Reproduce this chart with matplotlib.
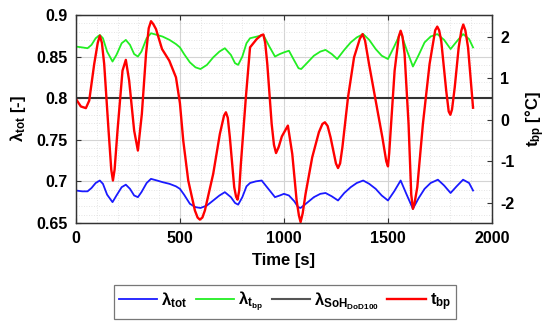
import matplotlib
matplotlib.use("Agg")
import matplotlib.pyplot as plt
from matplotlib.ticker import MultipleLocator

plt.rcParams['font.family'] = ['Liberation Sans', 'DejaVu Sans']
plt.rcParams['font.weight'] = 'bold'
plt.rcParams['mathtext.fontset'] = 'custom'
plt.rcParams['mathtext.rm'] = 'Liberation Sans:bold'
plt.rcParams['mathtext.it'] = 'Liberation Sans:bold'
plt.rcParams['mathtext.bf'] = 'Liberation Sans:bold'
plt.rcParams['mathtext.default'] = 'bf'
plt.rcParams['axes.unicode_minus'] = False

# ---- data ----
t_green = [0, 30, 56, 75, 95, 115, 130, 150, 176, 195, 220, 240, 260, 280, 298, 315, 340,
           361, 390, 417, 450, 481, 500, 520, 548, 575, 599, 630, 660, 690, 716, 745, 765,
           780, 800, 820, 837, 870, 901, 930, 957, 980, 1000, 1024, 1050, 1070, 1083, 1110,
           1144, 1175, 1200, 1230, 1256, 1290, 1321, 1350, 1381, 1410, 1441, 1470, 1500,
           1530, 1561, 1590, 1620, 1648, 1676, 1705, 1737, 1770, 1801, 1830, 1861, 1890, 1909]
lam_tbp = [0.862, 0.861, 0.860, 0.864, 0.872, 0.876, 0.872, 0.856, 0.844, 0.852, 0.866,
           0.870, 0.864, 0.853, 0.850, 0.856, 0.872, 0.878, 0.876, 0.874, 0.870, 0.865,
           0.861, 0.853, 0.843, 0.837, 0.835, 0.840, 0.849, 0.856, 0.860, 0.852, 0.842,
           0.840, 0.850, 0.866, 0.872, 0.874, 0.876, 0.862, 0.850, 0.853, 0.855, 0.857,
           0.845, 0.836, 0.835, 0.842, 0.851, 0.856, 0.858, 0.853, 0.847, 0.858, 0.867,
           0.873, 0.877, 0.870, 0.859, 0.851, 0.847, 0.862, 0.879, 0.858, 0.838, 0.852,
           0.867, 0.874, 0.877, 0.870, 0.859, 0.868, 0.877, 0.871, 0.861]

t_blue = [0, 30, 56, 75, 95, 115, 130, 150, 176, 195, 220, 240, 260, 280, 298, 315, 340,
          361, 390, 417, 450, 481, 500, 520, 548, 575, 599, 630, 660, 690, 716, 745, 765,
          780, 800, 820, 837, 865, 893, 925, 957, 980, 1000, 1024, 1050, 1068, 1080, 1110,
          1144, 1175, 1200, 1230, 1260, 1290, 1321, 1350, 1381, 1410, 1441, 1470, 1500,
          1530, 1561, 1590, 1620, 1648, 1676, 1705, 1740, 1770, 1801, 1830, 1861, 1890, 1909]
lam_tot = [0.689, 0.688, 0.688, 0.692, 0.698, 0.701, 0.697, 0.684, 0.675, 0.683, 0.693,
           0.696, 0.691, 0.683, 0.681, 0.687, 0.698, 0.703, 0.701, 0.699, 0.697, 0.694,
           0.691, 0.684, 0.673, 0.669, 0.668, 0.671, 0.677, 0.683, 0.687, 0.681, 0.674,
           0.672, 0.681, 0.694, 0.698, 0.700, 0.701, 0.691, 0.681, 0.683, 0.685, 0.683,
           0.676, 0.669, 0.668, 0.674, 0.681, 0.685, 0.686, 0.682, 0.677, 0.686, 0.693,
           0.698, 0.701, 0.697, 0.691, 0.683, 0.677, 0.688, 0.701, 0.684, 0.667, 0.680,
           0.691, 0.698, 0.702, 0.695, 0.686, 0.694, 0.702, 0.698, 0.689]

lam_soh = 0.8
t_soh = [0, 2000]

t_red = [0, 24, 48, 64, 88, 105, 115, 125, 136, 157, 170, 178, 186, 200, 224, 240, 256,
         280, 298, 317, 337, 350, 361, 372, 385, 414, 449, 481, 500, 516, 540, 572, 585,
         596, 608, 620, 660, 692, 712, 721, 730, 740, 761, 770, 777, 785, 793, 817, 837,
         869, 890, 901, 910, 920, 941, 952, 962, 975, 990, 1019, 1040, 1061, 1072, 1080,
         1090, 1104, 1136, 1168, 1185, 1197, 1210, 1224, 1250, 1260, 1270, 1281, 1308,
         1337, 1365, 1378, 1390, 1409, 1441, 1473, 1492, 1500, 1506, 1513, 1532, 1552,
         1561, 1570, 1580, 1599, 1612, 1620, 1628, 1641, 1668, 1700, 1727, 1737, 1746,
         1756, 1780, 1792, 1800, 1808, 1821, 1840, 1853, 1862, 1872, 1885, 1909]
t_bp = [0.50, 0.32, 0.28, 0.46, 1.34, 1.85, 2.02, 1.85, 1.34, -0.26, -1.20, -1.46, -1.20,
        -0.26, 1.18, 1.44, 0.94, -0.26, -0.74, 0.14, 1.58, 2.20, 2.37, 2.30, 2.18, 1.70,
        1.42, 1.02, 0.40, -0.50, -1.46, -2.18, -2.35, -2.40, -2.35, -2.18, -1.30, -0.34,
        0.10, 0.18, 0.05, -0.42, -1.62, -1.85, -1.92, -1.70, -1.06, 0.54, 1.74, 1.94,
        2.03, 2.05, 1.85, 1.34, -0.10, -0.60, -0.80, -0.65, -0.40, -0.14, -0.82, -1.94,
        -2.30, -2.46, -2.25, -1.78, -0.90, -0.30, -0.10, -0.06, -0.15, -0.42, -1.05,
        -1.16, -1.05, -0.66, 0.54, 1.50, 1.95, 2.06, 1.90, 1.34, 0.46, -0.42, -1.00,
        -1.12, -0.80, -0.26, 1.18, 2.00, 2.14, 2.00, 1.58, -0.10, -1.80, -2.14, -2.00,
        -1.62, -0.10, 1.34, 2.15, 2.24, 2.15, 1.90, 0.70, 0.20, 0.12, 0.25, 0.78, 1.74,
        2.15, 2.29, 2.15, 1.74, 0.29]

x_ticks = [0, 500, 1000, 1500, 2000]
yl_ticks = [0.65, 0.7, 0.75, 0.8, 0.85, 0.9]
yl_labels = ['0.65', '0.7', '0.75', '0.8', '0.85', '0.9']
yr_ticks = [-2, -1, 0, 1, 2]

# ---- figure ----
fig = plt.figure(figsize=(5.5, 3.25), dpi=100)
ax = fig.add_axes([0.138, 0.314, 0.7565, 0.640])
ax2 = ax.twinx()

c_blue = '#1a1aff'
c_green = '#22ee22'
c_black = '#333333'
c_red = '#ff0000'

l1, = ax.plot(t_blue, lam_tot, color=c_blue, lw=1.3, label=r'$\lambda_{tot}$')
l2, = ax.plot(t_green, lam_tbp, color=c_green, lw=1.3, label=r'$\lambda_{t_{bp}}$')
l3, = ax.plot(t_soh, [lam_soh, lam_soh], color=c_black, lw=1.5,
              label=r'$\lambda_{SoH_{DoD100}}$', zorder=5)
l4, = ax2.plot(t_red, t_bp, color=c_red, lw=1.7, label=r'$t_{bp}$')

ax.set_xlim(0, 2000)
ax.set_ylim(0.65, 0.9)
ax2.set_ylim(-2.48, 2.52)
ax.set_xticks(x_ticks)
ax.set_yticks(yl_ticks)
ax.set_yticklabels(yl_labels)
ax2.set_yticks(yr_ticks)
ax.xaxis.set_minor_locator(MultipleLocator(100))
ax.yaxis.set_minor_locator(MultipleLocator(0.01))

ax.grid(True, which='major', color='#d4d4d4', lw=0.8, ls='-')
ax.grid(True, which='minor', color='#dcdcdc', lw=0.6, ls=(0, (1, 2)))
ax.set_axisbelow(True)

for a in (ax, ax2):
    for s in a.spines.values():
        s.set_color('#333333')
        s.set_linewidth(0.9)
ax.tick_params(which='both', direction='in', top=True, labelsize=11.5, pad=6,
               colors='#333333', labelcolor='black')
ax.tick_params(which='minor', length=0)
ax2.tick_params(which='both', direction='in', labelsize=11.5, pad=6,
                colors='#333333', labelcolor='black')
ax2.tick_params(which='minor', length=0)
for lab in ax.get_xticklabels() + ax.get_yticklabels() + ax2.get_yticklabels():
    lab.set_fontweight('bold')

ax.set_xlabel('Time [s]', fontsize=12, fontweight='bold', labelpad=5)
ax.set_ylabel(r'$\lambda_{tot}$ [-]', fontsize=12, fontweight='bold', labelpad=6)
ax2.set_ylabel(r'$t_{bp}$ [°C]', fontsize=12, fontweight='bold', labelpad=6)

leg = fig.legend(handles=[l1, l2, l3, l4], loc='center', bbox_to_anchor=(0.518, 0.072),
                 ncol=4, fontsize=12, frameon=True, fancybox=False, handlelength=2.3,
                 handletextpad=0.25, columnspacing=0.5, borderpad=0.3)
leg.get_frame().set_edgecolor('#555555')
leg.get_frame().set_linewidth(0.9)
leg.legend_handles[2].set_color('#555555')

fig.savefig('out.png', dpi=100)
